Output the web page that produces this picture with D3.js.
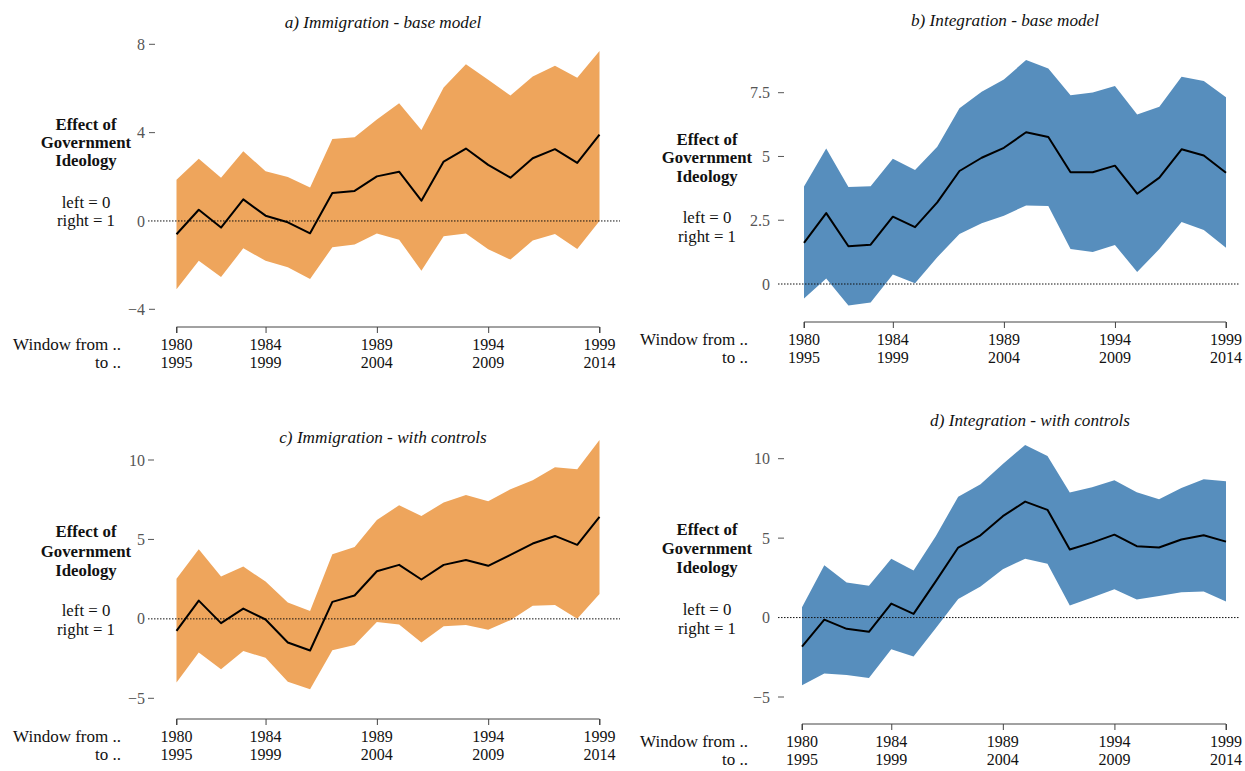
<!DOCTYPE html>
<html>
<head>
<meta charset="utf-8">
<script src="https://cdn.jsdelivr.net/npm/d3@7"></script>
<style>
  html, body { margin: 0; padding: 0; background: #fff; }
  svg { display: block; font-family: "Liberation Serif", "DejaVu Serif", serif; }
</style>
</head>
<body>
<svg id="chart" width="1245" height="771"></svg>
<script>
// ---------- DATA ----------
const windowStart = [1980,1981,1982,1983,1984,1985,1986,1987,1988,1989,1990,1991,1992,1993,1994,1995,1996,1997,1998,1999];
const tickFrom = [1980, 1984, 1989, 1994, 1999];
const tickTo   = ["1995", "1999", "2004", "2009", "2014"];

// a) Immigration - base model
const immBaseMean  = [-0.60,0.51,-0.30,0.98,0.24,-0.06,-0.56,1.27,1.36,2.02,2.23,0.92,2.69,3.28,2.54,1.96,2.84,3.25,2.63,3.91];
const immBaseUpper = [1.87,2.82,1.96,3.16,2.25,1.99,1.52,3.71,3.79,4.60,5.33,4.12,6.04,7.10,6.39,5.68,6.54,7.03,6.49,7.70];
const immBaseLower = [-3.09,-1.80,-2.54,-1.24,-1.80,-2.10,-2.63,-1.19,-1.07,-0.57,-0.85,-2.25,-0.69,-0.57,-1.28,-1.75,-0.89,-0.59,-1.27,0.00];

// b) Integration - base model
const intBaseMean  = [1.61,2.78,1.48,1.54,2.64,2.23,3.20,4.43,4.95,5.34,5.95,5.76,4.38,4.38,4.64,3.54,4.17,5.28,5.04,4.36];
const intBaseUpper = [3.82,5.31,3.80,3.83,4.91,4.47,5.38,6.89,7.54,8.02,8.78,8.45,7.40,7.51,7.76,6.65,6.95,8.13,7.96,7.32];
const intBaseLower = [-0.57,0.22,-0.84,-0.73,0.37,0.03,1.05,1.96,2.38,2.68,3.08,3.06,1.37,1.25,1.53,0.47,1.37,2.43,2.12,1.42];

// c) Immigration - with controls
const immCtrlMean  = [-0.76,1.15,-0.27,0.65,-0.04,-1.49,-1.99,1.07,1.47,3.00,3.40,2.48,3.40,3.71,3.34,4.03,4.74,5.22,4.66,6.42];
const immCtrlUpper = [2.52,4.38,2.66,3.29,2.35,1.03,0.50,4.07,4.53,6.23,7.15,6.48,7.32,7.80,7.41,8.16,8.73,9.54,9.42,11.26];
const immCtrlLower = [-4.01,-2.12,-3.17,-2.03,-2.45,-3.96,-4.43,-1.97,-1.64,-0.19,-0.36,-1.49,-0.46,-0.38,-0.69,-0.08,0.82,0.88,0.00,1.57];

// d) Integration - with controls
const intCtrlMean  = [-1.83,-0.13,-0.71,-0.90,0.88,0.23,2.29,4.41,5.18,6.38,7.30,6.78,4.28,4.72,5.22,4.49,4.41,4.91,5.18,4.78];
const intCtrlUpper = [0.65,3.29,2.20,2.01,3.71,2.96,5.14,7.61,8.39,9.67,10.87,10.17,7.87,8.20,8.64,7.89,7.45,8.16,8.71,8.58];
const intCtrlLower = [-4.26,-3.52,-3.61,-3.80,-1.99,-2.45,-0.65,1.17,1.95,3.04,3.71,3.38,0.76,1.26,1.78,1.13,1.36,1.59,1.64,1.01];

const yTicksA = [-4, 0, 4, 8];
const yTicksB = [0, 2.5, 5, 7.5];
const yTicksCD = [-5, 0, 5, 10];

const titles = ["a) Immigration - base model", "b) Integration - base model",
                "c) Immigration - with controls", "d) Integration - with controls"];
const ylabBold = ["Effect of", "Government", "Ideology"];
const ylabPlain = ["left = 0", "right = 1"];
const xlabLines = ["Window from ..", "to .."];

const orange = "#EEA55C";
const blue = "#578EBD";

// ---------- LAYOUT ----------
const panels = [
  { title: titles[0], titleX: 383, titleY: 22, mean: immBaseMean, upper: immBaseUpper, lower: immBaseLower,
    fill: orange, yDomain: [-4, 8], yRange: [309.3, 44.3], yTicks: yTicksA, xRange: [176.5, 599.5],
    axisY: 327, tickX: 149, labX: 145, zeroX: [148, 620], ylabX: 86, ylabY: [124, 142, 160, 202, 220], xlabX: 121 },
  { title: titles[1], titleX: 1005, titleY: 20, mean: intBaseMean, upper: intBaseUpper, lower: intBaseLower,
    fill: blue, yDomain: [0, 7.5], yRange: [284, 92.7], yTicks: yTicksB, xRange: [804, 1226],
    axisY: 322, tickX: 778, labX: 770, zeroX: [778, 1240], ylabX: 707, ylabY: [139, 157, 176, 217, 236], xlabX: 748 },
  { title: titles[2], titleX: 383, titleY: 437, mean: immCtrlMean, upper: immCtrlUpper, lower: immCtrlLower,
    fill: orange, yDomain: [-5, 10], yRange: [698.3, 460], yTicks: yTicksCD, xRange: [176.5, 599.5],
    axisY: 719, tickX: 148, labX: 145, zeroX: [148, 620], ylabX: 86, ylabY: [531, 551, 570, 610, 629], xlabX: 121 },
  { title: titles[3], titleX: 1030, titleY: 420, mean: intCtrlMean, upper: intCtrlUpper, lower: intCtrlLower,
    fill: blue, yDomain: [-5, 10], yRange: [697, 458.7], yTicks: yTicksCD, xRange: [802, 1226],
    axisY: 724, tickX: 778, labX: 770, zeroX: [778, 1240], ylabX: 707, ylabY: [529, 548, 567, 609, 628], xlabX: 748 }
];

const svg = d3.select("#chart");
const fmt = v => (v < 0 ? "\u2212" + Math.abs(v) : String(v));

panels.forEach(p => {
  const g = svg.append("g");
  const x = d3.scaleLinear().domain([windowStart[0], windowStart[windowStart.length - 1]]).range(p.xRange);
  const y = d3.scaleLinear().domain(p.yDomain).range(p.yRange);

  const rows = windowStart.map((yr, i) => ({ yr, m: p.mean[i], lo: p.lower[i], hi: p.upper[i] }));

  // band
  g.append("path").datum(rows)
    .attr("d", d3.area().x(d => x(d.yr)).y0(d => y(d.lo)).y1(d => y(d.hi)))
    .attr("fill", p.fill).attr("stroke", "none");

  // zero dotted line
  g.append("line")
    .attr("x1", p.zeroX[0]).attr("x2", p.zeroX[1])
    .attr("y1", y(0)).attr("y2", y(0))
    .attr("stroke", "#111").attr("stroke-width", 1).attr("stroke-dasharray", "1.5,1.5");

  // mean line
  g.append("path").datum(rows)
    .attr("d", d3.line().x(d => x(d.yr)).y(d => y(d.m)))
    .attr("fill", "none").attr("stroke", "#000").attr("stroke-width", 2).attr("stroke-linejoin", "round");

  // y ticks & labels
  p.yTicks.forEach(t => {
    if (t !== 0) {
      g.append("line").attr("x1", p.tickX).attr("x2", p.tickX + 6)
        .attr("y1", y(t)).attr("y2", y(t)).attr("stroke", "#555").attr("stroke-width", 1);
    }
    g.append("text").attr("x", p.labX).attr("y", y(t)).attr("dy", "0.35em")
      .attr("text-anchor", "end").attr("font-size", 16).attr("fill", "#555").text(fmt(t));
  });

  // x axis
  const xAxis = d3.axisBottom(x).tickValues(tickFrom).tickSize(6).tickFormat("");
  const ax = g.append("g").attr("transform", `translate(0,${p.axisY})`).call(xAxis);
  ax.select(".domain").attr("stroke", "#444").attr("d", `M${p.xRange[0]},6V0H${p.xRange[1]}V6`);
  ax.selectAll(".tick line").attr("stroke", "#444");
  tickFrom.forEach((t, i) => {
    g.append("text").attr("x", x(t)).attr("y", p.axisY + 17).attr("dy", "0.35em")
      .attr("text-anchor", "middle").attr("font-size", 16).attr("fill", "#111").text(String(t));
    g.append("text").attr("x", x(t)).attr("y", p.axisY + 35).attr("dy", "0.35em")
      .attr("text-anchor", "middle").attr("font-size", 16).attr("fill", "#111").text(tickTo[i]);
  });
  g.append("text").attr("x", p.xlabX).attr("y", p.axisY + 17).attr("dy", "0.35em")
    .attr("text-anchor", "end").attr("font-size", 17).attr("fill", "#111").text(xlabLines[0]);
  g.append("text").attr("x", p.xlabX).attr("y", p.axisY + 35).attr("dy", "0.35em")
    .attr("text-anchor", "end").attr("font-size", 17).attr("fill", "#111").text(xlabLines[1]);

  // title
  g.append("text").attr("x", p.titleX).attr("y", p.titleY).attr("dy", "0.35em")
    .attr("text-anchor", "middle").attr("font-size", 17.2).attr("font-style", "italic")
    .attr("fill", "#111").text(p.title);

  // y label
  ylabBold.forEach((s, i) => {
    g.append("text").attr("x", p.ylabX).attr("y", p.ylabY[i]).attr("dy", "0.35em")
      .attr("text-anchor", "middle").attr("font-size", 16.8).attr("font-weight", "bold")
      .attr("fill", "#111").text(s);
  });
  ylabPlain.forEach((s, i) => {
    g.append("text").attr("x", p.ylabX).attr("y", p.ylabY[3 + i]).attr("dy", "0.35em")
      .attr("text-anchor", "middle").attr("font-size", 16.8).attr("fill", "#111").text(s);
  });
});
</script>
</body>
</html>
